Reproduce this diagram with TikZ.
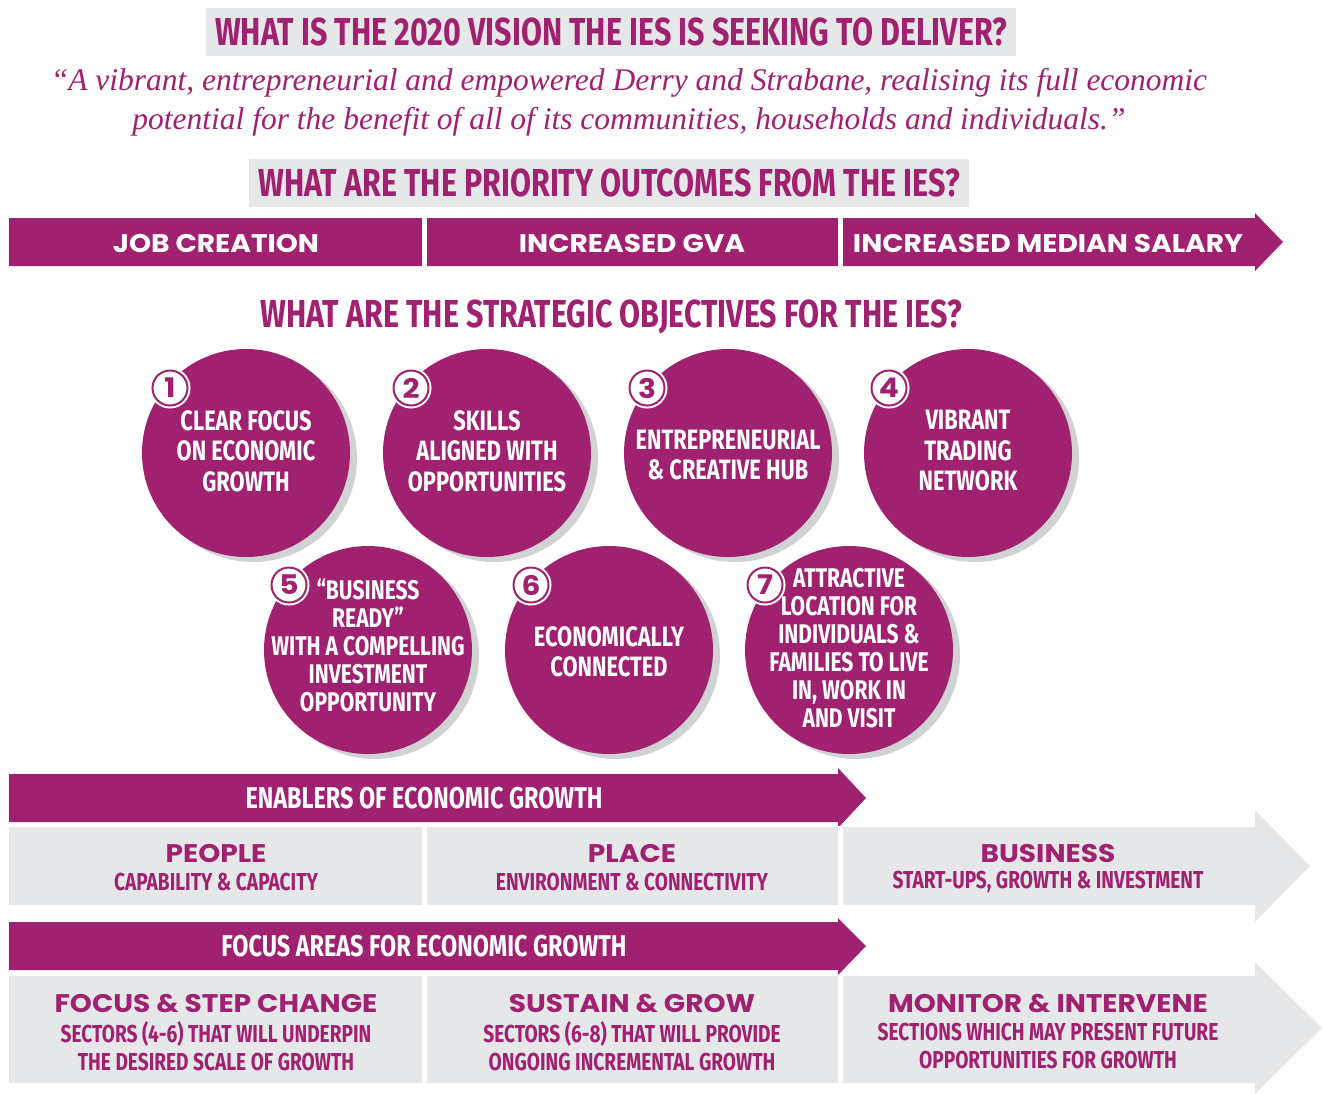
\documentclass[tikz,border=0pt]{standalone}
\usepackage{fontspec}
\usetikzlibrary{shadows}

\newfontfamily\condfont[FakeStretch=0.78]{Fira Sans}
\newfontfamily\geofont[FakeStretch=1.1]{Poppins}
\newfontfamily\quotefont{Liberation Serif}

\definecolor{iesplum}{RGB}{160,33,112}
\definecolor{iesgrey}{RGB}{230,231,232}
\definecolor{iesshadow}{RGB}{208,210,212}

\tikzset{
  question/.style={fill=iesgrey, text=iesplum, font=\condfont\bfseries\fontsize{39}{39}\selectfont, text height=27pt, text depth=0pt, inner xsep=9pt, inner ysep=10.5pt},
  vision/.style={text=iesplum, align=center, font=\quotefont\itshape\fontsize{31.5}{39}\selectfont},
  objective/.style={circle, fill=iesplum, minimum size=208pt, inner sep=0pt, general shadow={fill=iesshadow, shadow xshift=7pt, shadow yshift=-5pt}},
  objtext/.style={text=white, align=center, font=\condfont\bfseries\fontsize{28}{30.5}\selectfont},
  objdense/.style={objtext, font=\condfont\bfseries\fontsize{27}{28}\selectfont},
  badge/.style={circle, fill=white, draw=white, double=iesplum, double distance=2pt, line width=2pt, minimum size=35pt, inner sep=0pt, text=iesplum, font=\geofont\bfseries\fontsize{27}{27}\selectfont},
  outcome/.style={text=white, font=\geofont\bfseries\fontsize{25.5}{25.5}\selectfont},
  bandtitle/.style={text=white, font=\condfont\bfseries\fontsize{30}{30}\selectfont},
  tilehead/.style={text=iesplum, font=\geofont\bfseries\fontsize{25.5}{25.5}\selectfont},
  tilesub/.style={text=iesplum, align=center, font=\condfont\bfseries\fontsize{24.5}{27.5}\selectfont}
}

\begin{document}
\begin{tikzpicture}[x=1pt,y=-1pt]
\useasboundingbox (0,0) rectangle (1324,1093);

%%%%%%%%%%%%%%%%%%%%%%%%%%%%%%%%%%%%%%%%%%%%%%%%%%%%%%%% vision
\node[question] (qvision) at (611,32) {WHAT IS THE 2020 VISION THE IES IS SEEKING TO DELIVER?};
\node[vision] (vision) at (629,102) {“A vibrant, entrepreneurial and empowered Derry and Strabane, realising its full economic\\potential for the benefit of all of its communities, households and individuals.”};

%%%%%%%%%%%%%%%%%%%%%%%%%%%%%%%%%%%%%%%%%%%%%%%%%%%%%%%% outcomes
\node[question] (qoutcomes) at (609,182.5) {WHAT ARE THE PRIORITY OUTCOMES FROM THE IES?};
\fill[iesplum] (9,218) -- (1255,218) -- (1255,213) -- (1283,242) -- (1255,271) -- (1255,266) -- (9,266) -- cycle; %purple arrow
\fill[white] (422,216) rectangle (427,268); %split 1
\fill[white] (838,216) rectangle (843,268); %split 2
\node[outcome] (jobs) at (216,244) {JOB CREATION};
\node[outcome] (gva) at (632,244) {INCREASED GVA};
\node[outcome] (salary) at (1048,244) {INCREASED MEDIAN SALARY};

%%%%%%%%%%%%%%%%%%%%%%%%%%%%%%%%%%%%%%%%%%%%%%%%%%%%%%%% objectives
\node[text=iesplum, font=\condfont\bfseries\fontsize{39}{39}\selectfont, text height=27pt, text depth=0pt, inner sep=0pt] (qobjectives) at (611,314) {WHAT ARE THE STRATEGIC OBJECTIVES FOR THE IES?};

\node[objective] (c1) at (246,453) {};
\node[objective] (c2) at (487,453) {};
\node[objective] (c3) at (728,453) {};
\node[objective] (c4) at (968,453) {};
\node[objective] (c5) at (368,650) {};
\node[objective] (c6) at (609,650) {};
\node[objective] (c7) at (849,650) {};

\node[objtext] (t1) at (246,451) {CLEAR FOCUS\\ON ECONOMIC\\GROWTH};
\node[objtext] (t2) at (487,451) {SKILLS\\ALIGNED WITH\\OPPORTUNITIES};
\node[objtext] (t3) at (728,455) {ENTREPRENEURIAL\\\& CREATIVE HUB};
\node[objtext] (t4) at (968,451) {VIBRANT\\TRADING\\NETWORK};
\node[objdense] (t5) at (368,645) {“BUSINESS\\READY”\\WITH A COMPELLING\\INVESTMENT\\OPPORTUNITY};
\node[objtext] (t6) at (609,652) {ECONOMICALLY\\CONNECTED};
\node[objdense] (t7) at (849,648) {ATTRACTIVE\\LOCATION FOR\\INDIVIDUALS \&\\FAMILIES TO LIVE\\IN, WORK IN\\AND VISIT};

%number badges
\node[badge] (b1) at ([shift={(-76,-65)}]c1) {1};
\node[badge] (b2) at ([shift={(-76,-65)}]c2) {2};
\node[badge] (b3) at ([shift={(-81,-65)}]c3) {3};
\node[badge] (b4) at ([shift={(-79,-65)}]c4) {4};
\node[badge] (b5) at ([shift={(-79,-65)}]c5) {5};
\node[badge] (b6) at ([shift={(-78,-65)}]c6) {6};
\node[badge] (b7) at ([shift={(-84,-65)}]c7) {7};

%%%%%%%%%%%%%%%%%%%%%%%%%%%%%%%%%%%%%%%%%%%%%%%%%%%%%%%% enablers
\fill[iesplum] (9,774) -- (838,774) -- (838,768) -- (866,798) -- (838,828) -- (838,822) -- (9,822) -- cycle;
\node[bandtitle] (enablers) at (424,798) {ENABLERS OF ECONOMIC GROWTH};
\fill[iesgrey] (9,827) -- (1255,827) -- (1255,810) -- (1310,866) -- (1255,922) -- (1255,905) -- (9,905) -- cycle; %grey arrow
\fill[white] (422,826) rectangle (427,906);
\fill[white] (838,826) rectangle (843,906);
\node[tilehead] (people) at (216,853) {PEOPLE};
\node[tilesub] (peoplesub) at (216,882) {CAPABILITY \& CAPACITY};
\node[tilehead] (place) at (632,853) {PLACE};
\node[tilesub] (placesub) at (632,882) {ENVIRONMENT \& CONNECTIVITY};
\node[tilehead] (business) at (1048,853) {BUSINESS};
\node[tilesub] (businesssub) at (1048,882) {START-UPS, GROWTH \& INVESTMENT};

%%%%%%%%%%%%%%%%%%%%%%%%%%%%%%%%%%%%%%%%%%%%%%%%%%%%%%%% focus areas
\fill[iesplum] (9,922) -- (838,922) -- (838,918) -- (866,946) -- (838,975) -- (838,970) -- (9,970) -- cycle;
\node[bandtitle] (focus) at (424,946) {FOCUS AREAS FOR ECONOMIC GROWTH};
\fill[iesgrey] (9,976) -- (1255,976) -- (1255,962) -- (1322,1028) -- (1255,1094) -- (1255,1083) -- (9,1083) -- cycle;
\fill[white] (422,975) rectangle (427,1084);
\fill[white] (838,975) rectangle (843,1084);
\node[tilehead] (stepchange) at (216,1003) {FOCUS \& STEP CHANGE};
\node[tilesub] (stepchangesub) at (216,1046) {SECTORS (4-6) THAT WILL UNDERPIN\\THE DESIRED SCALE OF GROWTH};
\node[tilehead] (sustain) at (632,1003) {SUSTAIN \& GROW};
\node[tilesub] (sustainsub) at (632,1046) {SECTORS (6-8) THAT WILL PROVIDE\\ONGOING INCREMENTAL GROWTH};
\node[tilehead] (monitor) at (1048,1003) {MONITOR \& INTERVENE};
\node[tilesub] (monitorsub) at (1048,1046) {SECTIONS WHICH MAY PRESENT FUTURE\\OPPORTUNITIES FOR GROWTH};
\end{tikzpicture}
\end{document}
